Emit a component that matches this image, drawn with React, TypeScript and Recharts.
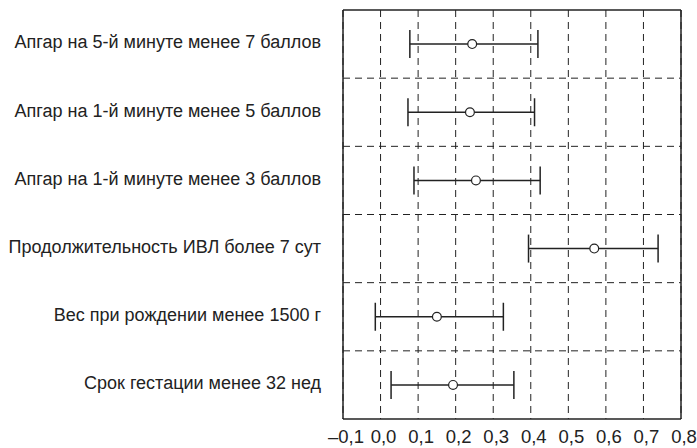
import React from 'react';
import {
  ScatterChart, Scatter, XAxis, YAxis, CartesianGrid, ErrorBar, ReferenceLine,
} from 'recharts';

// rows listed top to bottom
const factors = [
  'Апгар на 5-й минуте менее 7 баллов',
  'Апгар на 1-й минуте менее 5 баллов',
  'Апгар на 1-й минуте менее 3 баллов',
  'Продолжительность ИВЛ более 7 сут',
  'Вес при рождении менее 1500 г',
  'Срок гестации менее 32 нед',
];
const estimates = [0.244, 0.238, 0.254, 0.569, 0.150, 0.193];
const lowerCI = [0.078, 0.073, 0.089, 0.394, -0.014, 0.028];
const upperCI = [0.419, 0.410, 0.425, 0.739, 0.327, 0.355];

const xTicks = [-0.1, 0, 0.1, 0.2, 0.3, 0.4, 0.5, 0.6, 0.7, 0.8];
const xTickLabels = ['–0,1', '0,0', '0,1', '0,2', '0,3', '0,4', '0,5', '0,6', '0,7', '0,8'];

const n = factors.length;
const rowTicks = factors.map((_, i) => n - i - 0.5);
const separators = factors.slice(1).map((_, i) => n - i - 1);

const data = factors.map((name, i) => ({
  name,
  x: estimates[i],
  row: n - i - 0.5,
  err: [estimates[i] - lowerCI[i], upperCI[i] - estimates[i]],
}));

const ink = '#222';
const font = '"Liberation Sans", Arial, sans-serif';

const Dot = (props: any) => (
  <circle cx={props.cx} cy={props.cy} r={4.4} fill="#fff" stroke={ink} strokeWidth={1.2} />
);

const App = () => {
  return (
    <div style={{ position: 'absolute', left: 0, top: 0, background: '#fff', fontFamily: font }}>
      <ScatterChart width={697} height={448} margin={{ top: 10, right: 16, bottom: 0, left: 0 }}>
        <CartesianGrid horizontal={false} strokeDasharray="7 5" stroke={ink} />
        <XAxis
          type="number"
          dataKey="x"
          domain={[-0.1, 0.8]}
          ticks={xTicks}
          tickFormatter={(v: number) => xTickLabels[xTicks.findIndex((t) => Math.abs(t - v) < 1e-6)]}
          axisLine={false}
          tickLine={false}
          tickSize={0}
          tickMargin={11}
          height={29}
          interval={0}
          tick={{ fill: ink, fontSize: 18.5, fontFamily: font, dx: 3 }}
        />
        <YAxis
          type="number"
          dataKey="row"
          domain={[0, n]}
          ticks={rowTicks}
          tickFormatter={(v: number) => factors[n - 0.5 - v]}
          axisLine={false}
          tickLine={false}
          tickSize={0}
          tickMargin={22}
          width={343}
          interval={0}
          tick={{ fill: ink, fontSize: 18, fontFamily: font, dy: -2 }}
        />
        {separators.map((y) => (
          <ReferenceLine key={y} y={y} stroke={ink} strokeDasharray="7 5" />
        ))}
        <ReferenceLine x={-0.1} stroke={ink} strokeWidth={1.5} />
        <ReferenceLine x={0.8} stroke={ink} strokeWidth={1.5} />
        <ReferenceLine y={0} stroke={ink} strokeWidth={1.5} />
        <ReferenceLine y={n} stroke={ink} strokeWidth={1.5} />
        <Scatter data={data} shape={<Dot />} isAnimationActive={false}>
          <ErrorBar dataKey="err" direction="x" width={14} stroke={ink} strokeWidth={1.5} />
        </Scatter>
      </ScatterChart>
    </div>
  );
};

export default App;
